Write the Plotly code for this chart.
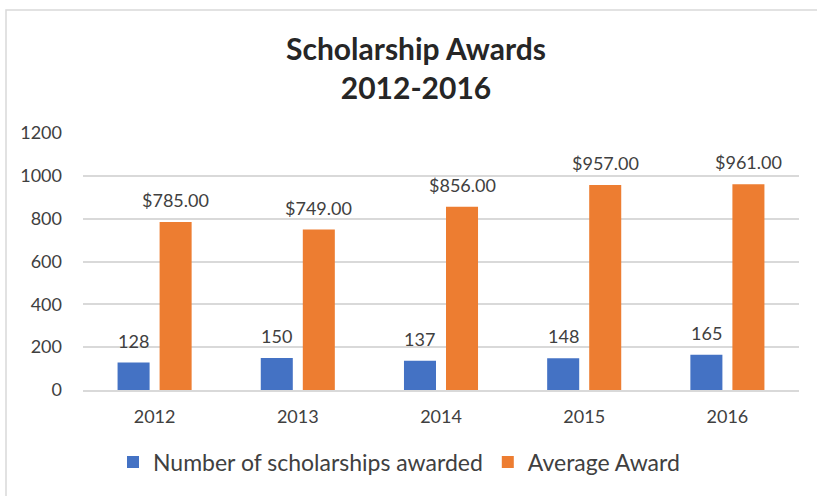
import plotly.graph_objects as go

years = ["2012", "2013", "2014", "2015", "2016"]
num_scholarships = [128, 150, 137, 148, 165]
avg_award = [785, 749, 856, 957, 961]
series_names = ["Number of scholarships awarded", "Average Award"]
colors = ["#4472C4", "#ED7D31"]
y_ticks = [0, 200, 400, 600, 800, 1000, 1200]

FONT = "Lato, Calibri, sans-serif"
W, H = 817, 496
ML, MR, MT, MB = 83, 18, 133, 106
PW = W - ML - MR
PH = H - MT - MB

fig = go.Figure()
fig.add_trace(go.Bar(x=years, y=num_scholarships, name=series_names[0],
                     marker=dict(color=colors[0], line=dict(width=0))))
fig.add_trace(go.Bar(x=years, y=avg_award, name=series_names[1],
                     marker=dict(color=colors[1], line=dict(width=0))))

cat_w = PW / len(years)
bargap = 0.413
bargroupgap = 0.238
slot = cat_w * (1 - bargap) / 2
annos = []
for i, y in enumerate(years):
    annos.append(dict(x=i, y=num_scholarships[i], text=f"{num_scholarships[i]}",
                      xref="x", yref="y", showarrow=False, yanchor="bottom",
                      xshift=-slot / 2, yshift=9,
                      font=dict(family=FONT, size=18, color="#404040")))
    annos.append(dict(x=i, y=avg_award[i], text=f"${avg_award[i]:,.2f}",
                      xref="x", yref="y", showarrow=False, yanchor="bottom",
                      xshift=slot / 2, yshift=9,
                      font=dict(family=FONT, size=18, color="#404040")))

# chart border
bx0 = (6 - ML) / PW
by1 = (MT + PH - 10) / PH
shapes = [dict(type="rect", xref="paper", yref="paper", x0=bx0, x1=1.2,
               y0=-0.6, y1=by1, line=dict(color="#D9D9D9", width=1.5),
               fillcolor="rgba(0,0,0,0)", layer="below")]

fig.update_layout(
    width=W, height=H,
    margin=dict(l=ML, r=MR, t=MT, b=MB),
    paper_bgcolor="white", plot_bgcolor="white",
    barmode="group", bargap=bargap, bargroupgap=bargroupgap,
    title=dict(text="<b>Scholarship Awards</b><br><b>2012-2016</b>",
               x=416 / W, xanchor="center", y=1 - 60 / H, yanchor="middle",
               font=dict(family=FONT, size=30, color="#262626")),
    xaxis=dict(type="category", categoryorder="array", categoryarray=years,
               range=[-0.5, len(years) - 0.5],
               showgrid=False, showline=True, linecolor="#D9D9D9",
               linewidth=1.5, ticks="",
               tickfont=dict(family=FONT, size=18, color="#404040"),
               ticklabelstandoff=10),
    yaxis=dict(range=[0, 1200], tickvals=y_ticks, showgrid=True,
               gridcolor="#D9D9D9", gridwidth=1.5, zeroline=False, showline=False,
               ticks="", tickfont=dict(family=FONT, size=18, color="#404040"),
               ticklabelstandoff=20),
    legend=dict(orientation="h", x=(399 - ML) / PW, xanchor="center",
                y=(PH - (462 - MT)) / PH, yanchor="middle", itemwidth=30,
                font=dict(family=FONT, size=23, color="#404040")),
    annotations=annos, shapes=shapes,
)

fig.write_html("out.html")
